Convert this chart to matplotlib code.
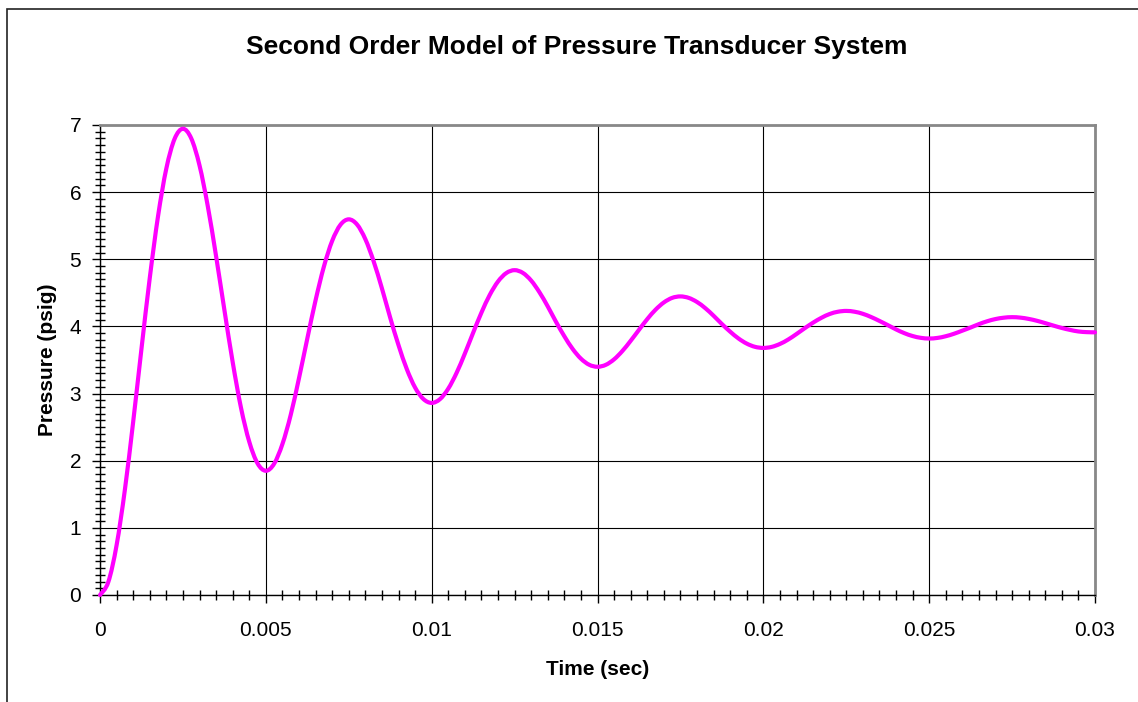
import numpy as np
import matplotlib
matplotlib.use("Agg")
import matplotlib.pyplot as plt
from matplotlib.ticker import MultipleLocator
from matplotlib.path import Path
from matplotlib.patches import PathPatch

# time samples (sec), every 0.00025 s from 0 to 0.03
t_step = 0.00025
n_pts = 121

# pressure readings (psig)
pressure = [
    0.000, 0.193, 0.741, 1.567, 2.578, 3.665, 4.720, 5.642, 6.352, 6.795,
    6.944, 6.802, 6.399, 5.790, 5.046, 4.247, 3.470, 2.791, 2.283, 1.960,
    1.850, 1.955, 2.248, 2.682, 3.230, 3.818, 4.390, 4.890, 5.274, 5.514,
    5.595, 5.518, 5.300, 4.970, 4.567, 4.130, 3.722, 3.365, 3.090, 2.919,
    2.861, 2.917, 3.073, 3.307, 3.595, 3.905, 4.205, 4.468, 4.669, 4.795,
    4.838, 4.797, 4.683, 4.509, 4.298, 4.068, 3.854, 3.665, 3.520, 3.429,
    3.399, 3.428, 3.510, 3.634, 3.786, 3.949, 4.109, 4.249, 4.357, 4.425,
    4.447, 4.425, 4.364, 4.272, 4.159, 4.036, 3.922, 3.821, 3.744, 3.696,
    3.680, 3.695, 3.739, 3.805, 3.887, 3.974, 4.056, 4.128, 4.185, 4.219,
    4.231, 4.219, 4.188, 4.140, 4.082, 4.020, 3.956, 3.900, 3.857, 3.830,
    3.820, 3.829, 3.854, 3.891, 3.937, 3.984, 4.034, 4.077, 4.110, 4.130,
    4.138, 4.131, 4.112, 4.084, 4.049, 4.012, 3.977, 3.948, 3.925, 3.915,
    3.912,
]
time = np.arange(n_pts) * t_step
x_ticks = [0, 0.005, 0.01, 0.015, 0.02, 0.025, 0.03]
x_ticklabels = ['0', '0.005', '0.01', '0.015', '0.02', '0.025', '0.03']


def smooth_path(x, y):
    # Excel-style smoothed line: cubic Bezier segments through the points
    pts = np.column_stack([x, y])
    padded = np.vstack([pts[0], pts, pts[-1]])
    verts = [pts[0]]
    codes = [Path.MOVETO]
    for i in range(len(pts) - 1):
        p0, p1, p2, p3 = padded[i], padded[i + 1], padded[i + 2], padded[i + 3]
        c1 = p1 + (p2 - p0) / 6.0
        c2 = p2 - (p3 - p1) / 6.0
        verts += [c1, c2, p2]
        codes += [Path.CURVE4] * 3
    return Path(verts, codes)


plt.rcParams['font.family'] = ['Liberation Sans', 'DejaVu Sans']

fig = plt.figure(figsize=(11.38, 7.02), dpi=100)

# outer chart frame (runs off the right and bottom edges)
frame = plt.Rectangle((6.5 / 1138, -0.1), 1.2, 1 - 9 / 702 + 0.1,
                      transform=fig.transFigure, fill=False,
                      edgecolor='#222222', linewidth=1.2)
fig.patches.append(frame)

ax = fig.add_axes([100 / 1138, 1 - 595 / 702, 995 / 1138, 470 / 702])
curve = PathPatch(smooth_path(time, pressure), facecolor='none',
                  edgecolor='#FF00FF', linewidth=3, capstyle='round',
                  joinstyle='round', zorder=3, clip_on=False)
ax.add_patch(curve)

ax.set_xlim(0, 0.03)
ax.set_ylim(0, 7)
ax.set_xticks(x_ticks)
ax.set_xticklabels(x_ticklabels)
ax.xaxis.set_minor_locator(MultipleLocator(0.0005))
ax.yaxis.set_major_locator(MultipleLocator(1))
ax.yaxis.set_minor_locator(MultipleLocator(0.1))

ax.grid(True, which='major', color='black', linewidth=0.8)
ax.set_axisbelow(True)

for side in ['top', 'right']:
    ax.spines[side].set_color('#888888')
    ax.spines[side].set_linewidth(2)
for side in ['left', 'bottom']:
    ax.spines[side].set_color('black')
    ax.spines[side].set_linewidth(1)

ax.tick_params(which='major', direction='out', length=5.5, width=1,
               labelsize=15)
ax.tick_params(axis='y', which='major', pad=8)
ax.tick_params(axis='x', which='major', pad=13)
ax.tick_params(which='minor', direction='inout', length=7, width=1)

fig.text(577 / 1138, 1 - 47 / 702,
         'Second Order Model of Pressure Transducer System',
         fontsize=19, fontweight='bold', ha='center', va='center')
ax.set_xlabel('Time (sec)', fontsize=15, fontweight='bold', labelpad=14.5)
ax.set_ylabel('Pressure (psig)', fontsize=15, fontweight='bold', labelpad=9)

fig.savefig('out.png', dpi=100)
